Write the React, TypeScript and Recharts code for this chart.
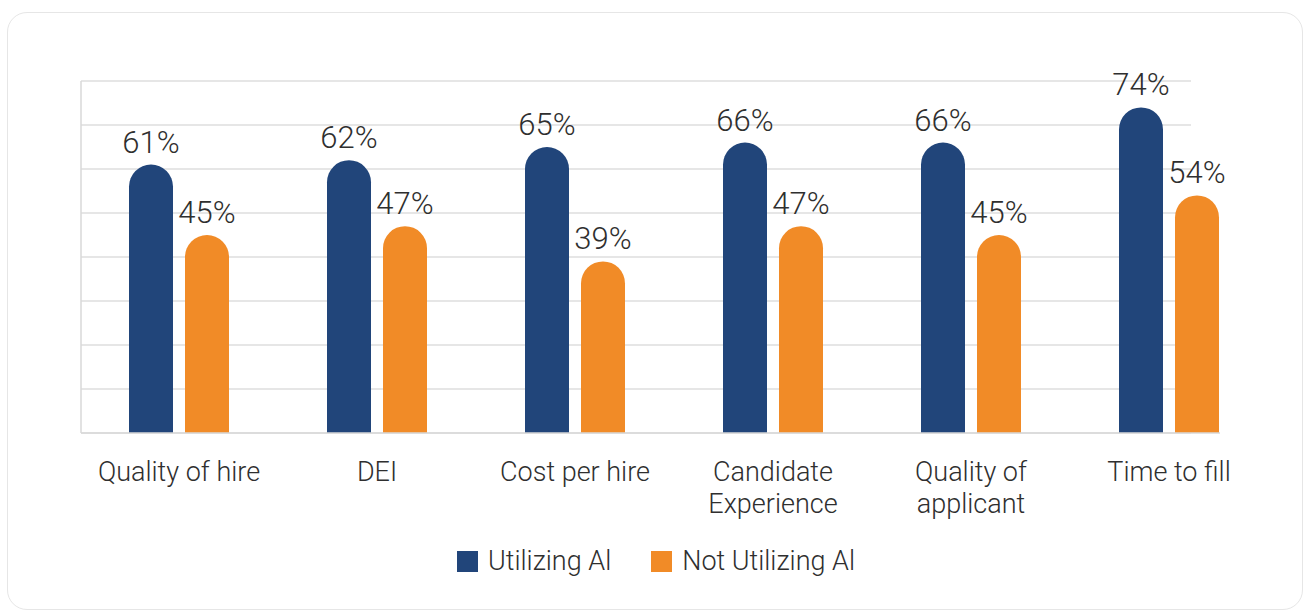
import { BarChart, Bar, XAxis, YAxis, CartesianGrid, Legend, LabelList } from "recharts";

const categories = [
  "Quality of hire",
  "DEI",
  "Cost per hire",
  "Candidate\nExperience",
  "Quality of\napplicant",
  "Time to fill",
];
const utilizing = [61, 62, 65, 66, 66, 74];
const notUtilizing = [45, 47, 39, 47, 45, 54];
const yTicks = [0, 10, 20, 30, 40, 50, 60, 70, 80];

const NAVY = "#21457a";
const ORANGE = "#f18b27";
const TEXT = "#2f2f2f";
const FONT = "Roboto, 'Open Sans', sans-serif";

const data = categories.map((name, i) => ({
  name,
  utilizing: utilizing[i],
  notUtilizing: notUtilizing[i],
}));

function CategoryTick({ x, y, payload }: any) {
  const lines = String(payload.value).split("\n");
  return (
    <text x={x} y={y} textAnchor="middle" fill={TEXT} fontSize={27} fontFamily={FONT} fontWeight={300}>
      {lines.map((line, i) => (
        <tspan key={i} x={x} dy={i === 0 ? 48 : 32}>
          {line}
        </tspan>
      ))}
    </text>
  );
}

function NoTick() {
  return <g />;
}

function LegendContent() {
  const items = [
    { label: "Utilizing Al", color: NAVY },
    { label: "Not Utilizing Al", color: ORANGE },
  ];
  return (
    <div style={{ display: "flex", justifyContent: "center", alignItems: "center", height: 30, gap: 40, paddingLeft: 4 }}>
      {items.map((it) => (
        <div key={it.label} style={{ display: "flex", alignItems: "center" }}>
          <span style={{ width: 21, height: 21, background: it.color, display: "inline-block", marginRight: 10 }} />
          <span style={{ fontFamily: FONT, fontWeight: 300, fontSize: 27, color: TEXT, lineHeight: "30px" }}>{it.label}</span>
        </div>
      ))}
    </div>
  );
}

export default function App() {
  return (
    <div style={{ position: "absolute", left: 0, top: 0, width: 1308, height: 615, background: "#fff" }}>
      <div
        style={{
          position: "absolute",
          left: 7,
          top: 12,
          width: 1296,
          height: 598,
          border: "1px solid #e6e6e6",
          borderRadius: 20,
          boxSizing: "border-box",
        }}
      />
      <div style={{ position: "absolute", left: 0, top: 0 }}>
        <BarChart
          width={1308}
          height={615}
          data={data}
          margin={{ top: 81, right: 88, bottom: 39, left: 80 }}
          barSize={44}
          barGap={12}
        >
          <CartesianGrid vertical={false} stroke="#dedede" strokeWidth={1.5} width={1110} />
          <XAxis
            dataKey="name"
            axisLine={{ stroke: "#d9d9d9", strokeWidth: 1.5 }}
            tickLine={false}
            tickSize={0}
            tickMargin={0}
            height={113}
            interval={0}
            padding={{ left: -1, right: -48 }}
            tick={<CategoryTick />}
          />
          <YAxis
            domain={[0, 80]}
            ticks={yTicks}
            interval={0}
            width={1}
            tick={<NoTick />}
            tickLine={false}
            axisLine={{ stroke: "#d9d9d9", strokeWidth: 1.5 }}
          />
          <Legend verticalAlign="bottom" height={30} wrapperStyle={{ left: 0, width: 1308 }} content={<LegendContent />} />
          <Bar dataKey="utilizing" name="Utilizing Al" fill={NAVY} radius={[22, 22, 0, 0]} isAnimationActive={false}>
            <LabelList
              dataKey="utilizing"
              position="top"
              offset={12}
              formatter={(v: any) => `${v}%`}
              style={{ fill: TEXT, fontSize: 31, fontFamily: FONT, fontWeight: 300 }}
            />
          </Bar>
          <Bar dataKey="notUtilizing" name="Not Utilizing Al" fill={ORANGE} radius={[22, 22, 0, 0]} isAnimationActive={false}>
            <LabelList
              dataKey="notUtilizing"
              position="top"
              offset={12}
              formatter={(v: any) => `${v}%`}
              style={{ fill: TEXT, fontSize: 31, fontFamily: FONT, fontWeight: 300 }}
            />
          </Bar>
        </BarChart>
      </div>
    </div>
  );
}
